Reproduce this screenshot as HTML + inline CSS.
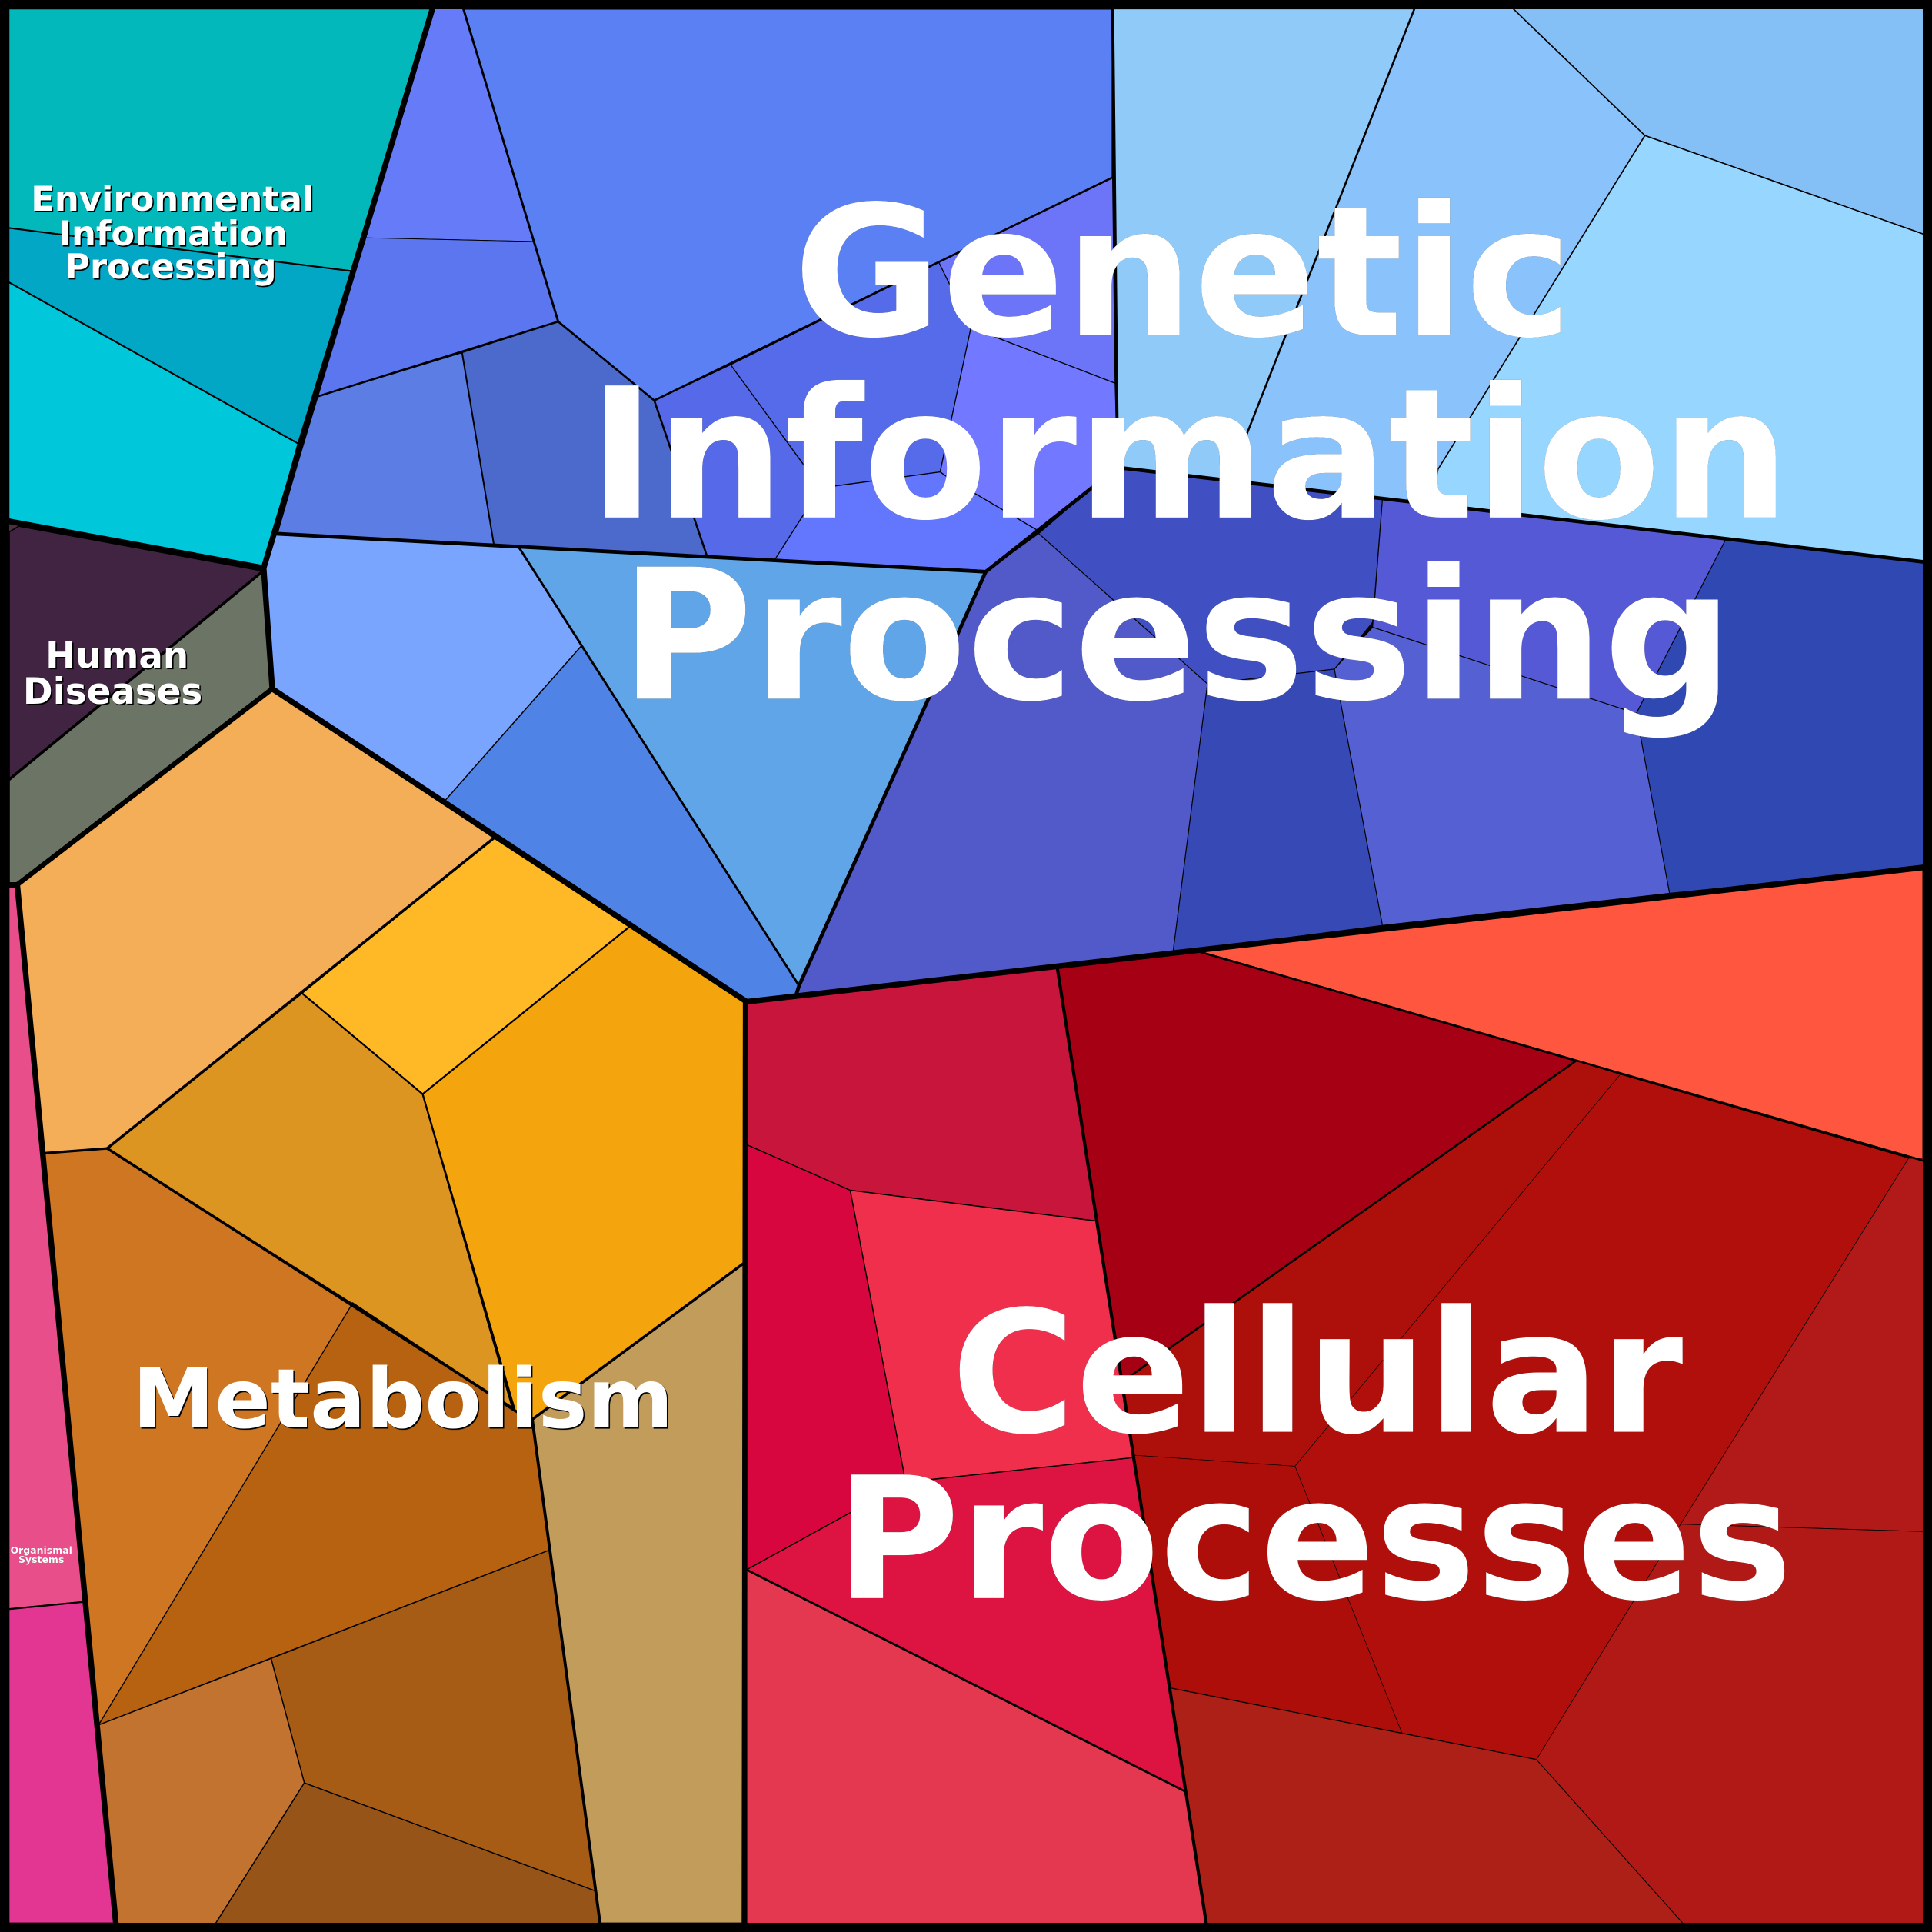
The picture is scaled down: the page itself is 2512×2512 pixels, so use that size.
<!DOCTYPE html>
<html><head><meta charset="utf-8"><title>Proteomap</title>
<style>
html,body{margin:0;padding:0;background:#000}
svg{display:block;width:2512px;height:2512px}
text{font-family:"DejaVu Sans","Liberation Sans",sans-serif;font-weight:bold;fill:#fff;text-anchor:middle}
.big{filter:drop-shadow(.8px .8px 0 #000)}
.mid{filter:drop-shadow(1px 1px 0 #000)}
.tiny{filter:drop-shadow(.5px .5px 0 #000)}
polygon{stroke:#000;stroke-linejoin:round}
.l{fill:none;stroke:#000;stroke-linejoin:round;stroke-linecap:round}
</style></head><body>
<svg xmlns="http://www.w3.org/2000/svg" viewBox="0 0 1568 1568">
<rect width="1568" height="1568" fill="#000"/>
<g stroke-width="1.3">
<polygon fill="#02b8bb" points="7,7 351,7 285,220 7,185"/>
<polygon fill="#03a7c6" points="7,185 285,220 242,360 7,229"/>
<polygon fill="#00c8da" points="7,229 242,360 214,461 7,423"/>
<polygon fill="#412442" points="7,425 214,463 7,633" stroke-width="2"/>
<polygon fill="#6c7466" points="7,633 214,463 221,559 14,718 7,718" stroke-width="2"/>
<polygon fill="#4a3040" points="7,423 17,426 7,432" stroke-width="1"/>
</g>
<g stroke-width="1.2">
<polygon fill="#667bf8" points="351,7 376,7 433,196 297,193" stroke-width=".6"/>
<polygon fill="#5c76f0" points="297,193 433,196 453,261 257,322" stroke-width=".6"/>
<polygon fill="#5b7de4" points="257,322 375,286 401,443 225,433"/>
<polygon fill="#4c69cc" points="375,286 453,261 531,325 574,452 401,443"/>
<polygon fill="#5a80f4" points="376,7 903,7 903,144 531,325 453,261" stroke-width="1.6"/>
<polygon fill="#5669e9" points="531,325 593,296 666,396 629,454 574,452" stroke-width=".8"/>
<polygon fill="#556bea" points="593,296 762,213 788,266 763,383 666,396" stroke-width=".8"/>
<polygon fill="#6c74f8" points="762,213 903,144 905,311 788,266" stroke-width=".8"/>
<polygon fill="#7278ff" points="788,266 905,311 907,380 886,396 843,431 770,388 763,383" stroke-width=".8"/>
<polygon fill="#6277fe" points="666,396 763,383 770,388 843,431 800,463 629,454" stroke-width=".8"/>
<polygon fill="#90caf8" points="903,7 1148,7 1012,352 1003,390.6 912,380 907,380" stroke-width="1.2"/>
<polygon fill="#8ac3fc" points="1148,7 1228,7 1335,110 1167,381 1163,409 1003,390.6 1012,352" stroke-width="1"/>
<polygon fill="#84c0f6" points="1228,7 1561,7 1561,190 1335,110" stroke-width="1"/>
<polygon fill="#96d6ff" points="1335,110 1561,190 1561,456 1163,409 1167,381" stroke-width="1"/>
<polygon fill="#5259c8" points="800,464 843,433 980,555 952,773 646,808 648.5,800" stroke-width=".7"/>
<polygon fill="#4050c2" points="843,433 886,396 912,380 1122,405 1114,505 1083,543 980,555" stroke-width=".7"/>
<polygon fill="#3649b4" points="980,555 1083,543 1122,751 952,773" stroke-width=".7"/>
<polygon fill="#5561d2" points="1083,543 1114,509 1328,579 1355,725 1122,751" stroke-width=".7"/>
<polygon fill="#5659d6" points="1122,405 1401,437 1328,579 1114,509" stroke-width=".7"/>
<polygon fill="#2f48b2" points="1401,437 1561,456 1561,704 1355,725 1328,579" stroke-width=".7"/>
<polygon fill="#7aa5ff" points="222,433 421,444 472,524 361,650 221,559 214,461" stroke-width=".9"/>
<polygon fill="#5083e6" points="472,524 648.5,800 646,808 606,813 361,650" stroke-width=".9"/>
<polygon fill="#60a5e7" points="421,444 800,464 648.5,800 472,524" stroke-width="1.6"/>
</g>
<g stroke-width="1.4">
<polygon fill="#f4ae58" points="221,559 401,680 87,932 35,936 14,718"/>
<polygon fill="#ffb926" points="401,680 511,752 343,888 245,806"/>
<polygon fill="#f4a40c" points="511,752 605,813 604,1025 432,1152 418,1145 343,888"/>
<polygon fill="#dd9522" points="245,806 343,888 416,1143 87,932"/>
<polygon fill="#ce7622" points="35,936 87,932 286,1058 80,1400" stroke-width=".8"/>
<polygon fill="#b66211" points="286,1058 418,1145 432,1152 446,1258 80,1400" stroke-width=".8"/>
<polygon fill="#a65c14" points="446,1258 484,1535 247,1447 220,1346" stroke-width=".9"/>
<polygon fill="#c37330" points="80,1400 220,1346 247,1447 175,1561 94,1561" stroke-width=".9"/>
<polygon fill="#975418" points="247,1447 484,1535 487,1561 175,1561" stroke-width=".9"/>
<polygon fill="#c29c5b" points="432,1152 604,1025 604,1561 487,1561"/>
<polygon fill="#e84e8a" points="7,720 14,720 69,1300 7,1306"/>
<polygon fill="#e23692" points="7,1306 69,1300 94,1561 7,1561"/>
</g>
<g stroke-width=".9">
<polygon fill="#c8153c" points="606,814 858,785 890,991 690,966 606,929"/>
<polygon fill="#a50014" points="858,785 972,772 1279,861 910,1122 890,991" stroke-width="1.4"/>
<polygon fill="#ff5640" points="972,772 1561,704 1561,942" stroke-width="1.6"/>
<polygon fill="#ad0f0a" points="1279,861 1315,872 1051,1190 920,1181 910,1122" stroke-width=".4"/>
<polygon fill="#b00f0b" points="1315,872 1549,940 1247,1428 1138,1407 1051,1190" stroke-width=".4"/>
<polygon fill="#ad0e0a" points="920,1181 1051,1190 1138,1407 950,1370" stroke-width=".4"/>
<polygon fill="#ad2018" points="950,1370 1247,1428 1366,1561 979,1561" stroke-width=".8"/>
<polygon fill="#b11a18" points="1549,940 1561,940 1561,1243 1364,1237" stroke-width=".5"/>
<polygon fill="#b11917" points="1364,1237 1561,1243 1561,1561 1366,1561 1247,1428" stroke-width=".5"/>
<polygon fill="#ef2f4b" points="690,966 890,991 920,1183 735,1203"/>
<polygon fill="#d8063e" points="606,929 690,966 735,1203 606,1274"/>
<polygon fill="#dd1342" points="735,1203 920,1183 962,1454 606,1274"/>
<polygon fill="#e3384f" points="606,1274 962,1454 979,1561 606,1561"/>
</g>
<polyline class="l" stroke-width="1.6" points="1279,861 910,1122"/>
<polyline class="l" stroke-width="1.6" points="972,772 1561,942"/>
<polyline class="l" stroke-width="1.6" points="531,325 903,144"/>
<polyline class="l" stroke-width="1.6" points="453,261 257,322"/>
<polyline class="l" stroke-width="1.8" points="453,261 376,7"/>
<polyline class="l" stroke-width="1.6" points="453,261 531,325 574,452"/>
<polyline class="l" stroke-width="1.6" points="1148,7 1012,352"/>
<polyline class="l" stroke-width="2.2" points="401,680 87,932"/>
<polyline class="l" stroke-width="2.2" points="87,932 416,1143"/>
<polyline class="l" stroke-width="2" points="35,936 87,932"/>
<polyline class="l" stroke-width="1.8" points="421,444 648.5,800"/>
<polyline class="l" stroke-width="1.8" points="606,1274 962,1454"/>
<polyline class="l" stroke-width="2.4" points="903,7 907,380"/>
<polyline class="l" stroke-width="3" points="222,433 800,464 648.5,800 646,808"/>
<polyline class="l" stroke-width="3" points="800,464 886,396 912,380 1561,456"/>
<polyline class="l" stroke-width="2.6" points="858,785 979,1561"/>
<polyline class="l" stroke-width="2.4" points="432,1152 487,1561"/>
<polyline class="l" stroke-width="2.2" points="604,1025 432,1152 418,1145"/>
<polyline class="l" stroke-width="2.2" points="286,1058 418,1145"/>
<polyline class="l" stroke-width="4.2" points="605,813 604,1561"/>
<polyline class="l" stroke-width="2.2" points="7,633 214,463"/>
<polyline class="l" stroke-width="4.6" points="606,813 1561,704"/>
<polyline class="l" stroke-width="4.6" points="221,559 606,813"/>
<polyline class="l" stroke-width="4.6" points="7,423 214,461 221,559"/>
<polyline class="l" stroke-width="4" points="221,559 14,718 7,718"/>
<polyline class="l" stroke-width="4.6" points="351,7 214,461"/>
<polyline class="l" stroke-width="4.6" points="14,718 94,1561"/>
<rect x="3.75" y="3.75" width="1560.5" height="1560.5" fill="none" stroke="#000" stroke-width="7.5"/>
<g font-size="147" class="big">
<text x="960" y="272">Genetic</text>
<text x="965" y="420">Information</text>
<text x="955" y="567">Processing</text>
</g>
<g font-size="137.5" class="big">
<text x="1069" y="1162">Cellular</text>
<text x="1066.5" y="1297">Processes</text>
</g>
<text x="327" y="1158.5" font-size="67" class="mid">Metabolism</text>
<g font-size="28" class="mid">
<text x="140" y="171">Environmental</text>
<text x="140.5" y="199">Information</text>
<text x="138.5" y="226">Processing</text>
</g>
<g font-size="29.2" class="mid">
<text x="95" y="542">Human</text>
<text x="91.5" y="571">Diseases</text>
</g>
<g font-size="7.8" class="tiny">
<text x="33.5" y="1261">Organismal</text>
<text x="33.5" y="1268.5">Systems</text>
</g>
</svg>
</body></html>
